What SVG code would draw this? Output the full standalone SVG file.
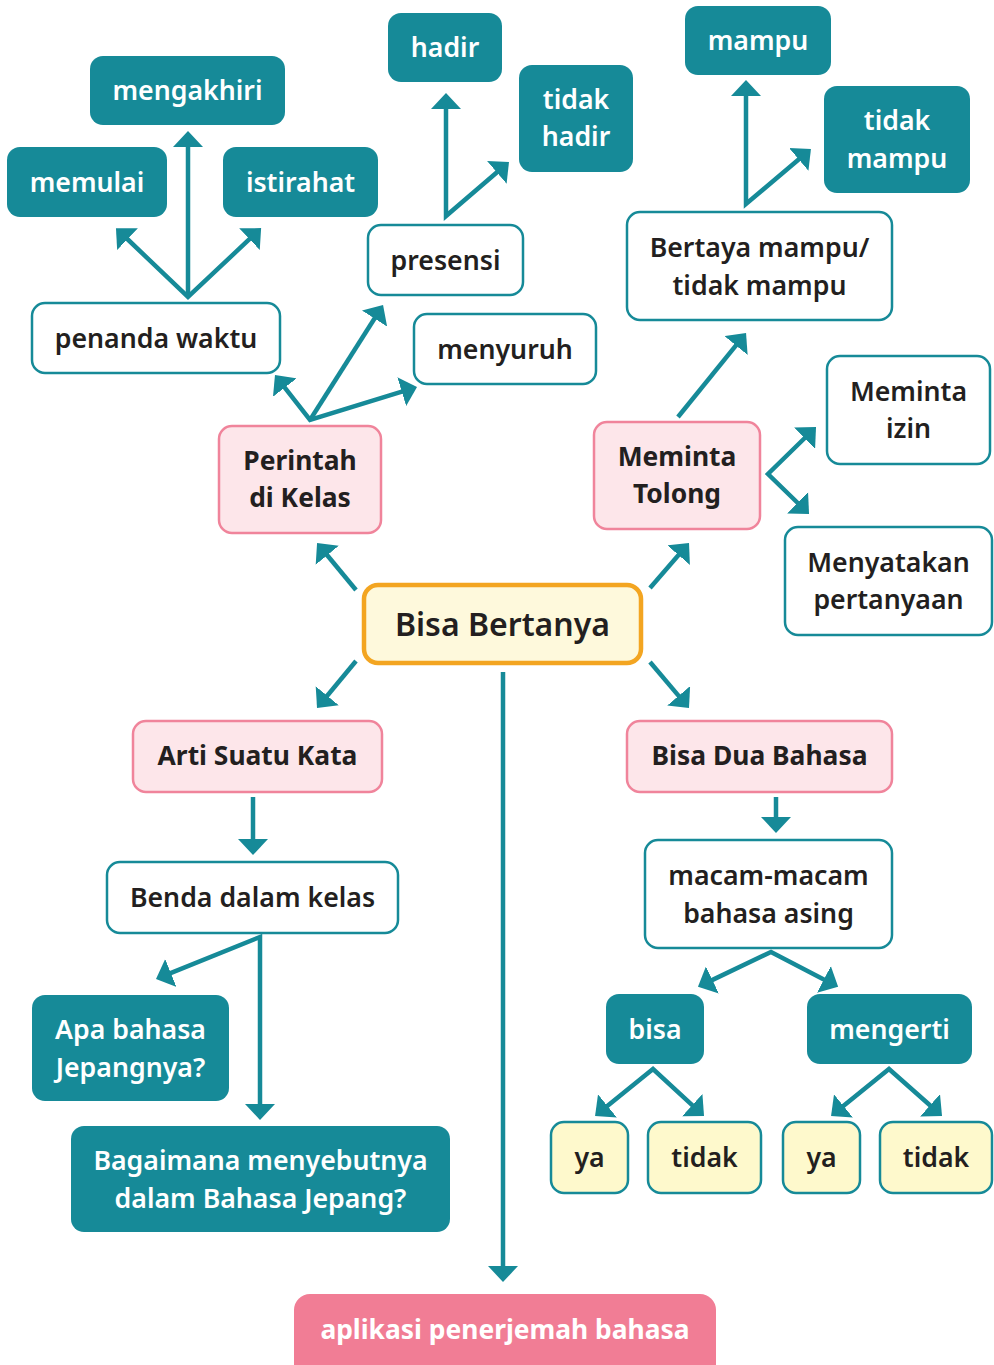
<svg xmlns="http://www.w3.org/2000/svg" width="994" height="1365" viewBox="0 0 994 1365">
<style>
text{font-family:"Noto Sans","Open Sans","DejaVu Sans",sans-serif;font-weight:600;font-size:26.7px;text-anchor:middle;dominant-baseline:central;fill:#231f20}
.teal rect{fill:#168a98}
.teal text{fill:#ffffff}
.white rect{fill:#ffffff;stroke:#168a98;stroke-width:2.5}
.pink rect{fill:#fde6ea;stroke:#f0849b;stroke-width:2.5}
.pink text{font-weight:700;font-size:26.4px}
.yel rect{fill:#fef9cc;stroke:#168a98;stroke-width:2.5}
.main rect{fill:#fef9dc;stroke:#f3a521;stroke-width:4.5}
.main text{font-size:32px}
.app rect{fill:#f17d95}
.app text{fill:#ffffff;font-weight:700;font-size:26.4px}
#connectors line,#connectors polyline{fill:none;stroke:#168a98;stroke-width:4.5;marker-end:url(#ah)}
#connectors polyline{marker-start:url(#ahs)}
</style>
<defs>
<marker id="ah" markerUnits="userSpaceOnUse" markerWidth="17" markerHeight="30" refX="1" refY="15" orient="auto" viewBox="0 0 17 30"><path d="M0,0 L16,15 L0,30 Z" fill="#168a98"/></marker>
<marker id="ahs" markerUnits="userSpaceOnUse" markerWidth="17" markerHeight="30" refX="1" refY="15" orient="auto-start-reverse" viewBox="0 0 17 30"><path d="M0,0 L16,15 L0,30 Z" fill="#168a98"/></marker>
</defs>

<g id="connectors">
<polyline points="126.8,238.5 188,297 250.2,238.4"/>
<line x1="188" y1="297" x2="188" y2="146"/>
<polyline points="446,108 446,216 497.6,171.8"/>
<polyline points="746,95 746,204 799.5,158.7"/>
<polyline points="284.2,386.8 310,420 402.7,391.4"/>
<line x1="310" y1="420" x2="375" y2="317.7"/>
<line x1="356" y1="590" x2="326.6" y2="554.5"/>
<line x1="650" y1="588" x2="679.2" y2="554.3"/>
<line x1="356" y1="661" x2="326.6" y2="696.5"/>
<line x1="650" y1="662" x2="679.3" y2="696.6"/>
<line x1="503" y1="672" x2="503" y2="1267"/>
<line x1="678" y1="417" x2="736.6" y2="344.7"/>
<polyline points="805.3,437.5 768,474 798.3,503.5"/>
<line x1="253" y1="797" x2="253" y2="840"/>
<line x1="776" y1="797" x2="776" y2="818"/>
<polyline points="169.9,973.4 260,937 260,1105"/>
<polyline points="711.5,980.4 771,952 824.8,979.9"/>
<polyline points="606.7,1106.6 653,1069 693,1105.8"/>
<polyline points="842.7,1106.6 889,1069 930.8,1106"/>
</g>

<g id="n-mengakhiri" class="teal"><rect x="90" y="56" width="195" height="69" rx="13"/><text x="187.5" y="89">mengakhiri</text></g>
<g id="n-memulai" class="teal"><rect x="7" y="147" width="160" height="70" rx="13"/><text x="87" y="181">memulai</text></g>
<g id="n-istirahat" class="teal"><rect x="223" y="147" width="155" height="70" rx="13"/><text x="300.5" y="181">istirahat</text></g>
<g id="n-penanda" class="white"><rect x="32" y="303" width="248" height="70" rx="13"/><text x="156" y="337">penanda waktu</text></g>
<g id="n-hadir" class="teal"><rect x="388" y="13" width="114" height="69" rx="13"/><text x="445" y="46">hadir</text></g>
<g id="n-tidakhadir" class="teal"><rect x="519" y="65" width="114" height="107" rx="13"/><text x="576" y="98">tidak</text><text x="576" y="135">hadir</text></g>
<g id="n-presensi" class="white"><rect x="368" y="225" width="155" height="70" rx="13"/><text x="445.5" y="259">presensi</text></g>
<g id="n-menyuruh" class="white"><rect x="414" y="314" width="182" height="70" rx="13"/><text x="505" y="348">menyuruh</text></g>
<g id="n-mampu" class="teal"><rect x="685" y="6" width="146" height="69" rx="13"/><text x="758" y="39">mampu</text></g>
<g id="n-tidakmampu" class="teal"><rect x="824" y="86" width="146" height="107" rx="13"/><text x="897" y="119">tidak</text><text x="897" y="157">mampu</text></g>
<g id="n-bertaya" class="white"><rect x="627" y="212" width="265" height="108" rx="13"/><text x="759.5" y="246">Bertaya mampu/</text><text x="759.5" y="284">tidak mampu</text></g>
<g id="n-perintah" class="pink"><rect x="219" y="426" width="162" height="107" rx="13"/><text x="300" y="460">Perintah</text><text x="300" y="497">di Kelas</text></g>
<g id="n-meminta" class="pink"><rect x="594" y="422" width="166" height="107" rx="13"/><text x="677" y="456">Meminta</text><text x="677" y="493">Tolong</text></g>
<g id="n-izin" class="white"><rect x="827" y="356" width="163" height="108" rx="13"/><text x="908.5" y="390">Meminta</text><text x="908.5" y="427">izin</text></g>
<g id="n-menyatakan" class="white"><rect x="785" y="527" width="207" height="108" rx="13"/><text x="888.5" y="561">Menyatakan</text><text x="888.5" y="598">pertanyaan</text></g>
<g id="n-bisabertanya" class="main"><rect x="364" y="585" width="277" height="78" rx="14"/><text x="502.5" y="623">Bisa Bertanya</text></g>
<g id="n-arti" class="pink"><rect x="133" y="721" width="249" height="71" rx="13"/><text x="257.5" y="755">Arti Suatu Kata</text></g>
<g id="n-bisadua" class="pink"><rect x="627" y="721" width="265" height="71" rx="13"/><text x="759.5" y="755">Bisa Dua Bahasa</text></g>
<g id="n-benda" class="white"><rect x="107" y="862" width="291" height="71" rx="13"/><text x="252.5" y="896">Benda dalam kelas</text></g>
<g id="n-macam" class="white"><rect x="645" y="840" width="247" height="108" rx="13"/><text x="768.5" y="874">macam-macam</text><text x="768.5" y="912">bahasa asing</text></g>
<g id="n-apa" class="teal"><rect x="32" y="995" width="197" height="106" rx="13"/><text x="130.5" y="1028">Apa bahasa</text><text x="130.5" y="1066">Jepangnya?</text></g>
<g id="n-bagaimana" class="teal"><rect x="71" y="1126" width="379" height="106" rx="13"/><text x="260.5" y="1159">Bagaimana menyebutnya</text><text x="260.5" y="1197">dalam Bahasa Jepang?</text></g>
<g id="n-bisa" class="teal"><rect x="606" y="994" width="98" height="70" rx="13"/><text x="655" y="1028">bisa</text></g>
<g id="n-mengerti" class="teal"><rect x="807" y="994" width="165" height="70" rx="13"/><text x="889.5" y="1028">mengerti</text></g>
<g id="n-ya1" class="yel"><rect x="551" y="1122" width="77" height="71" rx="13"/><text x="589.5" y="1156">ya</text></g>
<g id="n-tidak1" class="yel"><rect x="648" y="1122" width="113" height="71" rx="13"/><text x="704.5" y="1156">tidak</text></g>
<g id="n-ya2" class="yel"><rect x="783" y="1122" width="77" height="71" rx="13"/><text x="821.5" y="1156">ya</text></g>
<g id="n-tidak2" class="yel"><rect x="880" y="1122" width="112" height="71" rx="13"/><text x="936" y="1156">tidak</text></g>
<g id="n-aplikasi" class="app"><rect x="294" y="1294" width="422" height="90" rx="16"/><text x="505" y="1329">aplikasi penerjemah bahasa</text></g>
</svg>
